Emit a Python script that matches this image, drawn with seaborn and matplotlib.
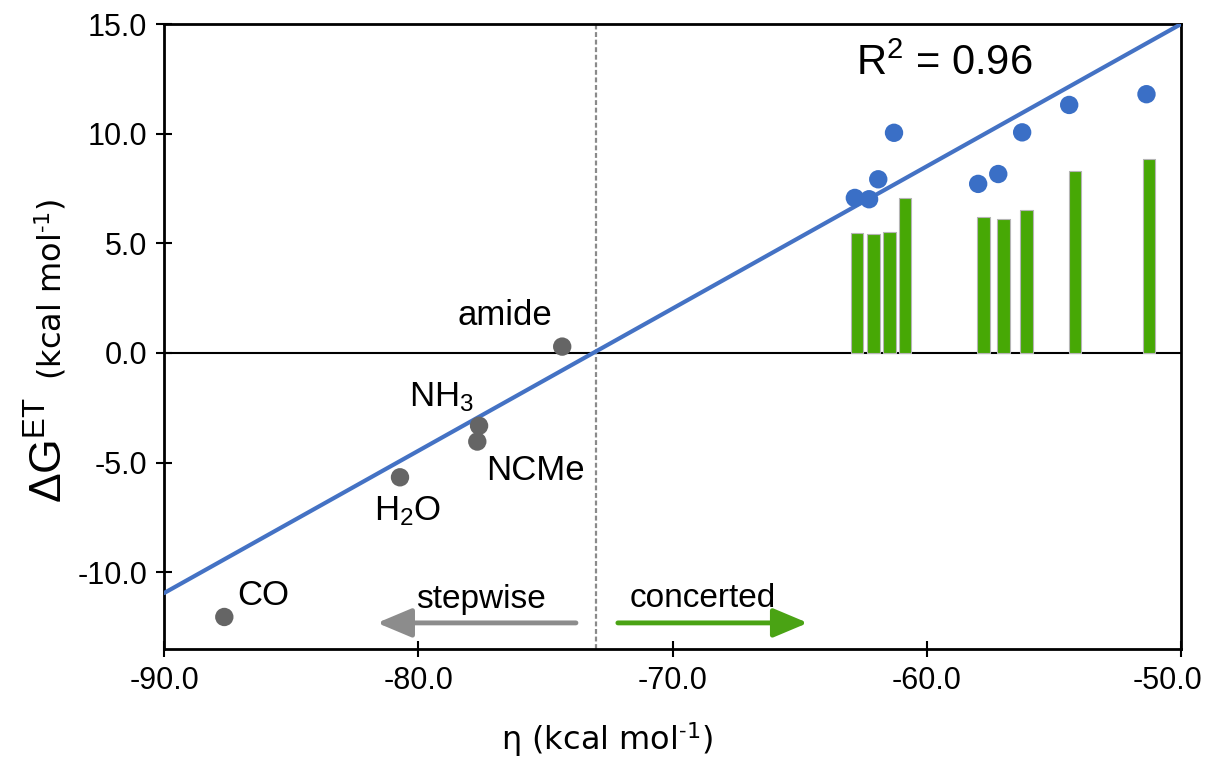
import matplotlib
matplotlib.use("Agg")
import matplotlib.pyplot as plt
import matplotlib.transforms as mtransforms
import seaborn as sns

# ---- data ----
blue_x = [-62.83, -62.27, -61.91, -61.29, -57.98, -57.19, -56.25, -54.40, -51.36]
blue_y = [7.07, 7.01, 7.92, 10.04, 7.71, 8.16, 10.06, 11.31, 11.80]

bar_x = [-62.75, -62.10, -61.48, -60.86, -57.76, -56.98, -56.08, -54.17, -51.26]
bar_y = [5.49, 5.41, 5.50, 7.07, 6.20, 6.11, 6.53, 8.31, 8.86]

gray_names = ["amide", "NH$_3$", "NCMe", "H$_2$O", "CO"]
gray_x = [-74.34, -77.61, -77.68, -80.72, -87.63]
gray_y = [0.29, -3.32, -4.04, -5.67, -12.04]

fit_x = [-90.0, -50.0]
fit_y = [-10.95, 15.0]

divide_x = -73.0
r2_text = "R$^{2}$ = 0.96"

xticks = [-90, -80, -70, -60, -50]
yticks = [-10, -5, 0, 5, 10, 15]

# ---- style ----
sns.set_theme(style="white")
plt.rcParams["font.family"] = ["Liberation Sans", "DejaVu Sans"]
plt.rcParams["mathtext.fontset"] = "custom"
plt.rcParams["mathtext.rm"] = "Liberation Sans"
plt.rcParams["mathtext.it"] = "Liberation Sans"
plt.rcParams["mathtext.bf"] = "Liberation Sans:bold"
plt.rcParams["text.color"] = "black"
plt.rcParams["xtick.color"] = "black"
plt.rcParams["ytick.color"] = "black"

fig = plt.figure(figsize=(12.08, 7.58), dpi=100)
ax = fig.add_axes([0.1358, 0.1438, 0.8419, 0.8245])

BLUE = "#3a6fc6"
LINE = "#4472c4"
GREEN = "#47a805"
GRAY = "#656565"

ax.bar(bar_x, bar_y, width=0.5, color=GREEN, edgecolor="#b5b5b5",
       linewidth=0.8, joinstyle="round", zorder=2)

ax.axhline(0, color="black", lw=1.5, zorder=1)
ax.axvline(divide_x, color="#8a8a8a", lw=1.6, ls=(0, (2.2, 1.2)), zorder=1)

sns.lineplot(x=fit_x, y=fit_y, ax=ax, color=LINE, lw=3, zorder=3)
sns.scatterplot(x=blue_x, y=blue_y, ax=ax, color=BLUE, s=175,
                edgecolor="none", zorder=4)
sns.scatterplot(x=gray_x, y=gray_y, ax=ax, color=GRAY, s=175,
                edgecolor="none", zorder=4)

# labels for gray points
lab_pos = {
    "amide": (-76.59, 1.28),
    "NH$_3$": (-79.1, -2.42),
    "NCMe": (-75.41, -5.79),
    "H$_2$O": (-80.42, -7.65),
    "CO": (-86.09, -11.49),
}
for name in gray_names:
    px, py = lab_pos[name]
    ax.text(px, py, name, fontsize=25, ha="center", va="baseline", color="black")

# arrows
ax.annotate("", xy=(-81.62, -12.31), xytext=(-73.8, -12.31),
            arrowprops=dict(arrowstyle="-|>,head_length=1.0,head_width=0.42",
                            lw=3.5, color="#8c8c8c", mutation_scale=21,
                            shrinkA=0, shrinkB=0))
ax.annotate("", xy=(-64.68, -12.31), xytext=(-72.15, -12.31),
            arrowprops=dict(arrowstyle="-|>,head_length=1.0,head_width=0.42",
                            lw=3.5, color="#4aa314", mutation_scale=21,
                            shrinkA=0, shrinkB=0))
ax.text(-77.53, -11.63, "stepwise", fontsize=24, ha="center", va="baseline")
ax.text(-68.8, -11.58, "concerted", fontsize=24, ha="center", va="baseline")

ax.text(-59.33, 12.68, r2_text, fontsize=30, ha="center", va="baseline")

ax.set_xlim(-90, -50)
ax.set_ylim(-13.5, 15)
ax.set_xticks(xticks)
ax.set_yticks(yticks)
ax.set_xticklabels([f"{v:.1f}" for v in xticks], fontsize=22)
ax.set_yticklabels([f"{v:.1f}" for v in yticks], fontsize=22)
ax.tick_params(direction="inout", length=12, width=1.5, color="black",
               labelcolor="black", bottom=True, left=True, pad=6)
# last x tick label sits slightly left in the reference
lab = ax.get_xticklabels()[-1]
lab.set_transform(lab.get_transform() +
                  mtransforms.ScaledTranslation(-14 / 100, 0, fig.dpi_scale_trans))

for s in ax.spines.values():
    s.set_color("black")
    s.set_linewidth(2)

unit_sup = "$^{\u2010\\mathregular{1}}$"
# x label
fig.text(607 / 1208, 1 - 750 / 758, "η (kcal mol" + unit_sup + ")",
         fontsize=23, family="DejaVu Sans", ha="center", va="baseline")
# y label: ΔG^ET followed by units
fig.text(63 / 1208, 1 - 503 / 758, r"$\Delta\mathregular{G}^{\mathregular{ET}}$",
         fontsize=32, rotation=90, rotation_mode="anchor",
         ha="left", va="baseline")
fig.text(62 / 1208, 1 - 380 / 758, "(kcal mol" + unit_sup + ")",
         fontsize=23, family="DejaVu Sans", rotation=90,
         rotation_mode="anchor", ha="left", va="baseline")

fig.savefig("out.png", dpi=100)
